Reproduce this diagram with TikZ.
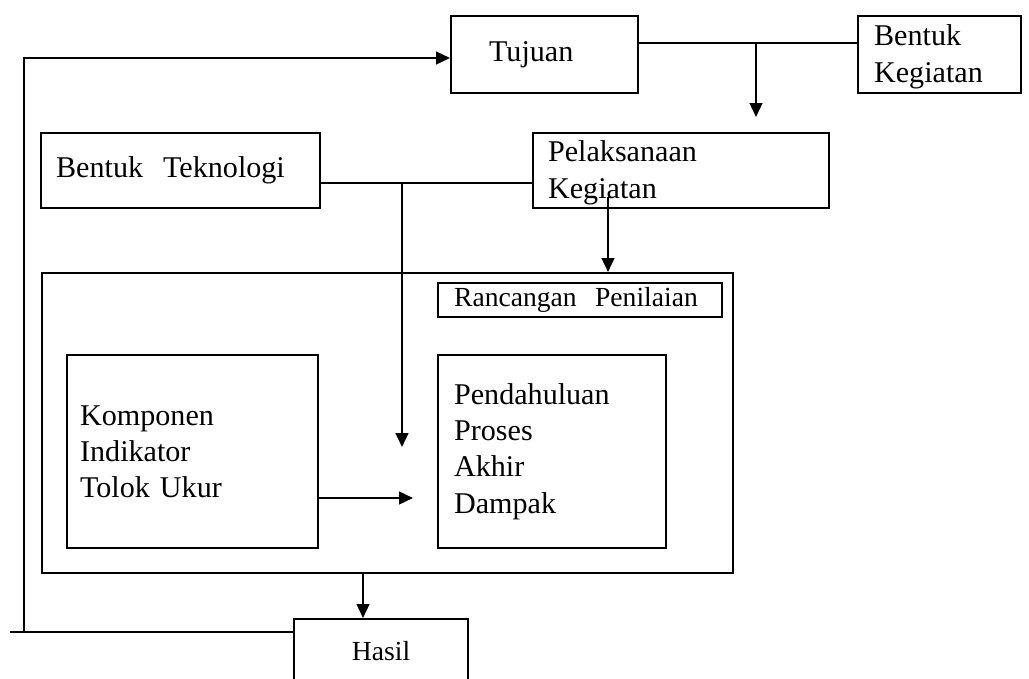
\documentclass[tikz,border=0pt]{standalone}
\usepackage{fontspec}
\setmainfont{Liberation Serif}
\usepackage{tikz}
\usetikzlibrary{arrows.meta,positioning,calc}

\begin{document}
\begin{tikzpicture}[
    x=0.014cm, y=-0.014cm,
    box/.style={rectangle, draw, line width=0.9pt, inner sep=0pt, align=left,
                anchor=north west, font=\fontsize{12}{14.4}\selectfont},
    smallbox/.style={box, font=\fontsize{11}{13}\selectfont},
    link/.style={line width=0.9pt},
    arrow/.style={-{Triangle[length=5.5pt,width=5pt]}, line width=0.9pt}
]
\useasboundingbox (0,0) rectangle (1029,679);
\clip (0,0) rectangle (1029,679);

% upper row
\node[box, minimum width=2.618cm, minimum height=1.078cm, text width=1.554cm] (tujuan) at (450,15) {Tujuan};
\node[box, minimum width=2.282cm, minimum height=1.078cm, text width=1.834cm] (bkeg) at (857,15) {\strut Bentuk\\Kegiatan};
\node[box, minimum width=3.906cm, minimum height=1.05cm, text width=3.486cm] (tekno) at (40,132) {Bentuk\ \ Teknologi};
\node[box, minimum width=4.144cm, minimum height=1.05cm, text width=3.724cm] (pel) at (532,132) {\strut Pelaksanaan\\Kegiatan};

% rancangan penilaian
\node[box, minimum width=9.674cm, minimum height=4.2cm] (frame) at (41,272) {};
\node[smallbox, minimum width=3.976cm, minimum height=0.476cm, text width=3.528cm] (ranc) at (437,282) {Rancangan\ \ Penilaian};
\node[box, minimum width=3.514cm, minimum height=2.702cm, text width=3.15cm] (komp) at (66,354) {Komponen\\Indikator\\Tolok Ukur};
\node[box, minimum width=3.192cm, minimum height=2.702cm, text width=2.744cm] (pend) at (437,354) {Pendahuluan\\Proses\\Akhir\\Dampak};

% hasil
\node[smallbox, align=center, minimum width=2.436cm, minimum height=0.896cm] (hasil) at (293,618) {Hasil};

% connectors
\coordinate (tj) at (756,43);
\coordinate (tjend) at (756,117);
\draw[link] (tujuan.east |- tj) -- (bkeg.west |- tj);
\draw[arrow] (tj) -- (tjend);

\coordinate (tk) at (402,183);
\coordinate (tkend) at (402,447);
\draw[link] (tekno.east |- tk) -- (pel.west |- tk);
\draw[arrow] (tk) -- (tkend);

\coordinate (pk) at (608,197);
\draw[arrow] (pk) -- (pk |- frame.north);

\coordinate (kp) at (413,498);
\draw[arrow] (komp.east |- kp) -- (kp);

\coordinate (hx) at (363,600);
\draw[arrow] (frame.south -| hx) -- (hasil.north -| hx);

% feedback
\coordinate (fbl) at (10,632);
\coordinate (fbc) at (24,632);
\coordinate (fbt) at (24,58);
\draw[link] (hasil.west |- fbl) -- (fbl);
\draw[arrow] (fbc) -- (fbt) -- (tujuan.west |- fbt);
\end{tikzpicture}
\end{document}
